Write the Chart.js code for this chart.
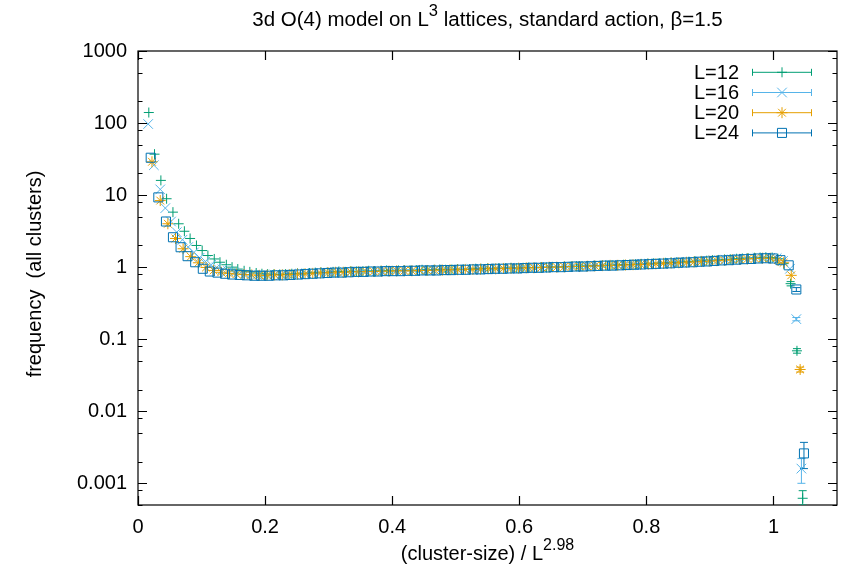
<!DOCTYPE html>
<html><head><meta charset="utf-8">
<script src="https://cdn.jsdelivr.net/npm/chart.js@4/dist/chart.umd.min.js"></script>
<style>html,body{margin:0;padding:0;background:#fff;}canvas{display:block}</style>
</head><body>
<canvas id="c" width="846" height="572"></canvas>
<script>
const FONT = '"Liberation Sans", Arial, Helvetica, sans-serif';
const seriesNames = ['L=12', 'L=16', 'L=20', 'L=24'];
const seriesColors = ['#009e73', '#56b4e9', '#e69f00', '#0072b2'];
const seriesStyles = ['cross', 'crossRot', 'star', 'rect'];
const xTicks = [0, 0.2, 0.4, 0.6, 0.8, 1];
const yTicks = [1000, 100, 10, 1, 0.1, 0.01, 0.001];
const yMinorMult = [2, 5, 8];

const L12 = [[0.017,140],[0.026,37],[0.036,16],[0.045,8.9],[0.055,5.8],[0.064,4.0],[0.073,3.15],[0.082,2.5],[0.092,2.0],[0.101,1.7],[0.110,1.45],[0.120,1.3],[0.129,1.17],[0.139,1.08],[0.148,1.0],[0.157,0.94],[0.167,0.89],[0.176,0.86],[0.186,0.83],[0.195,0.81],[0.204,0.80],[0.214,0.80],[0.223,0.79],[0.232,0.80],[0.242,0.81],[0.251,0.82],[0.260,0.81],[0.270,0.83],[0.279,0.84],[0.288,0.85],[0.298,0.84],[0.307,0.86],[0.316,0.87],[0.326,0.86],[0.335,0.88],[0.344,0.87],[0.354,0.88],[0.363,0.89],[0.372,0.88],[0.382,0.89],[0.391,0.90],[0.400,0.89],[0.410,0.90],[0.419,0.91],[0.428,0.90],[0.438,0.91],[0.447,0.92],[0.456,0.91],[0.466,0.92],[0.475,0.93],[0.484,0.92],[0.494,0.93],[0.503,0.94],[0.512,0.93],[0.522,0.94],[0.531,0.95],[0.540,0.95],[0.550,0.96],[0.559,0.95],[0.568,0.97],[0.578,0.96],[0.587,0.98],[0.596,0.97],[0.606,0.98],[0.615,0.99],[0.624,0.98],[0.634,1.00],[0.643,0.99],[0.652,1.01],[0.662,1.00],[0.671,1.02],[0.680,1.02],[0.690,1.03],[0.699,1.03],[0.708,1.04],[0.718,1.05],[0.727,1.05],[0.736,1.06],[0.746,1.07],[0.755,1.07],[0.764,1.08],[0.774,1.09],[0.783,1.10],[0.792,1.11],[0.802,1.12],[0.811,1.13],[0.820,1.14],[0.830,1.15],[0.839,1.16],[0.848,1.17],[0.858,1.18],[0.867,1.19],[0.876,1.21],[0.886,1.22],[0.895,1.23],[0.904,1.25],[0.914,1.26],[0.923,1.28],[0.932,1.29],[0.942,1.31],[0.951,1.32],[0.960,1.34],[0.970,1.35],[0.979,1.36],[0.988,1.37],[0.998,1.36],[1.007,1.31],[1.016,1.12],[1.027,0.59],[1.037,0.069],[1.046,0.00062]];

const L16 = [[0.016,97],[0.025,26],[0.035,12],[0.043,6.6],[0.052,4.3],[0.061,3.05],[0.070,2.4],[0.079,1.9],[0.088,1.6],[0.097,1.35],[0.106,1.2],[0.115,1.08],[0.124,0.99],[0.133,0.93],[0.142,0.88],[0.151,0.85],[0.160,0.82],[0.169,0.80],[0.178,0.79],[0.187,0.78],[0.196,0.78],[0.205,0.78],[0.215,0.79],[0.225,0.78],[0.235,0.80],[0.245,0.80],[0.255,0.81],[0.265,0.82],[0.275,0.83],[0.285,0.82],[0.295,0.84],[0.305,0.85],[0.315,0.84],[0.325,0.86],[0.335,0.86],[0.345,0.87],[0.355,0.87],[0.365,0.88],[0.375,0.87],[0.385,0.88],[0.395,0.89],[0.405,0.88],[0.415,0.89],[0.425,0.90],[0.435,0.89],[0.445,0.90],[0.455,0.91],[0.465,0.90],[0.475,0.91],[0.485,0.92],[0.495,0.92],[0.505,0.93],[0.515,0.92],[0.525,0.94],[0.535,0.94],[0.545,0.95],[0.555,0.94],[0.565,0.96],[0.575,0.95],[0.585,0.97],[0.595,0.96],[0.605,0.97],[0.615,0.98],[0.625,0.98],[0.635,0.99],[0.645,1.00],[0.655,1.00],[0.665,1.01],[0.675,1.01],[0.685,1.02],[0.695,1.03],[0.705,1.03],[0.715,1.04],[0.725,1.05],[0.735,1.05],[0.745,1.06],[0.755,1.07],[0.765,1.08],[0.775,1.08],[0.785,1.09],[0.795,1.10],[0.805,1.11],[0.815,1.12],[0.825,1.13],[0.835,1.14],[0.845,1.15],[0.855,1.17],[0.865,1.18],[0.875,1.19],[0.885,1.21],[0.895,1.22],[0.905,1.24],[0.915,1.25],[0.925,1.27],[0.935,1.28],[0.945,1.30],[0.955,1.31],[0.965,1.33],[0.975,1.34],[0.985,1.35],[0.995,1.35],[1.005,1.33],[1.015,1.22],[1.026,0.95],[1.036,0.19],[1.044,0.0016]];

const L20 = [[0.022,29],[0.035,8.4],[0.047,4.0],[0.059,2.5],[0.071,1.8],[0.083,1.4],[0.095,1.15],[0.107,0.99],[0.119,0.90],[0.131,0.85],[0.143,0.82],[0.155,0.80],[0.167,0.79],[0.179,0.78],[0.191,0.77],[0.203,0.77],[0.215,0.78],[0.227,0.78],[0.239,0.79],[0.251,0.80],[0.263,0.81],[0.275,0.82],[0.287,0.83],[0.299,0.84],[0.311,0.85],[0.323,0.85],[0.335,0.86],[0.347,0.86],[0.359,0.87],[0.371,0.87],[0.383,0.88],[0.395,0.88],[0.407,0.89],[0.419,0.89],[0.431,0.89],[0.443,0.90],[0.455,0.90],[0.467,0.91],[0.479,0.91],[0.491,0.92],[0.503,0.92],[0.515,0.93],[0.527,0.93],[0.539,0.94],[0.551,0.95],[0.563,0.95],[0.575,0.96],[0.587,0.96],[0.599,0.97],[0.611,0.98],[0.623,0.98],[0.635,0.99],[0.647,1.00],[0.659,1.00],[0.671,1.01],[0.683,1.02],[0.695,1.02],[0.707,1.03],[0.719,1.04],[0.731,1.05],[0.743,1.06],[0.755,1.06],[0.767,1.07],[0.779,1.08],[0.791,1.09],[0.803,1.10],[0.815,1.11],[0.827,1.13],[0.839,1.14],[0.851,1.15],[0.863,1.17],[0.875,1.18],[0.887,1.20],[0.899,1.21],[0.911,1.23],[0.923,1.25],[0.935,1.27],[0.947,1.28],[0.959,1.30],[0.971,1.32],[0.983,1.33],[0.995,1.33],[1.007,1.25],[1.016,1.15],[1.028,0.77],[1.042,0.038]];

const L24 = [[0.020,33],[0.032,9.3],[0.044,4.3],[0.055,2.6],[0.067,1.89],[0.078,1.42],[0.090,1.17],[0.102,0.95],[0.113,0.87],[0.125,0.84],[0.137,0.81],[0.148,0.79],[0.160,0.78],[0.171,0.77],[0.183,0.76],[0.194,0.76],[0.206,0.76],[0.217,0.77],[0.229,0.77],[0.240,0.78],[0.252,0.79],[0.263,0.80],[0.275,0.81],[0.286,0.82],[0.298,0.83],[0.309,0.84],[0.321,0.84],[0.332,0.85],[0.344,0.86],[0.355,0.86],[0.367,0.87],[0.378,0.87],[0.390,0.88],[0.401,0.88],[0.413,0.88],[0.424,0.89],[0.436,0.89],[0.447,0.90],[0.459,0.90],[0.470,0.90],[0.482,0.91],[0.493,0.91],[0.505,0.92],[0.516,0.92],[0.528,0.93],[0.539,0.93],[0.551,0.94],[0.562,0.95],[0.574,0.95],[0.585,0.96],[0.597,0.96],[0.608,0.97],[0.620,0.98],[0.631,0.98],[0.643,0.99],[0.654,1.00],[0.666,1.00],[0.677,1.01],[0.689,1.02],[0.700,1.02],[0.712,1.03],[0.723,1.04],[0.735,1.05],[0.746,1.05],[0.758,1.06],[0.769,1.07],[0.781,1.08],[0.792,1.09],[0.804,1.10],[0.815,1.11],[0.827,1.12],[0.838,1.13],[0.850,1.15],[0.861,1.16],[0.873,1.17],[0.884,1.19],[0.896,1.20],[0.907,1.22],[0.919,1.24],[0.930,1.25],[0.942,1.27],[0.953,1.29],[0.965,1.30],[0.976,1.32],[0.988,1.33],[0.999,1.32],[1.011,1.25],[1.024,1.06],[1.036,0.49],[1.048,0.0026]];

// error bars [x, low, high] where they are visible beyond the marker
const L12_err = [[1.027,0.55,0.63],[1.037,0.064,0.074],[1.046,0.00050,0.00079]];
const L16_err = [[1.036,0.18,0.20],[1.044,0.0010,0.0022]];
const L20_err = [[1.042,0.035,0.041]];
const L24_err = [[1.036,0.46,0.52],[1.048,0.0016,0.0037]];

const seriesData = [L12, L16, L20, L24];
const seriesErr = [L12_err, L16_err, L20_err, L24_err];
const markerRadius = [5, 6.8, 5.5, 6.4];

function drawMarker(ctx, style, x, y, r) {
  ctx.beginPath();
  if (style === 'cross' || style === 'star') {
    ctx.moveTo(x, y - r); ctx.lineTo(x, y + r);
    ctx.moveTo(x - r, y); ctx.lineTo(x + r, y);
  }
  if (style === 'crossRot' || style === 'star') {
    const o = Math.cos(Math.PI / 4) * r;
    ctx.moveTo(x - o, y - o); ctx.lineTo(x + o, y + o);
    ctx.moveTo(x - o, y + o); ctx.lineTo(x + o, y - o);
  }
  if (style === 'rect') {
    const s = Math.SQRT1_2 * r;
    ctx.rect(x - s, y - s, 2 * s, 2 * s);
  }
  ctx.stroke();
}

function drawRich(ctx, parts, cx, baseline) {
  let total = 0;
  parts.forEach(p => { ctx.font = p.size + 'px ' + FONT; p.w = ctx.measureText(p.t).width; total += p.w; });
  let x = cx - total / 2;
  parts.forEach(p => { ctx.font = p.size + 'px ' + FONT; ctx.fillText(p.t, x, baseline - p.rise); x += p.w; });
}

const gnuplotFrame = {
  id: 'gnuplotFrame',
  beforeDatasetsDraw(chart) {
    const { ctx, chartArea: a, scales: { x, y } } = chart;
    ctx.save();
    // border
    ctx.strokeStyle = '#000';
    ctx.lineWidth = 1.2;
    ctx.strokeRect(a.left, a.top, a.right - a.left, a.bottom - a.top);
    // x ticks (inside, mirrored)
    xTicks.forEach(v => {
      const px = Math.round(x.getPixelForValue(v)) + 0.5;
      ctx.beginPath();
      ctx.moveTo(px, a.bottom); ctx.lineTo(px, a.bottom - 9);
      ctx.moveTo(px, a.top); ctx.lineTo(px, a.top + 9);
      ctx.stroke();
    });
    // y major ticks
    yTicks.forEach(v => {
      const py = Math.round(y.getPixelForValue(v)) + 0.5;
      ctx.beginPath();
      ctx.moveTo(a.left, py); ctx.lineTo(a.left + 9, py);
      ctx.moveTo(a.right, py); ctx.lineTo(a.right - 9, py);
      ctx.stroke();
    });
    // y minor ticks
    yTicks.concat([0.0001]).forEach(dec => {
      yMinorMult.forEach(m => {
        const v = dec * m;
        if (v < y.min || v > y.max) return;
        const py = Math.round(y.getPixelForValue(v)) + 0.5;
        ctx.beginPath();
        ctx.moveTo(a.left, py); ctx.lineTo(a.left + 4.5, py);
        ctx.moveTo(a.right, py); ctx.lineTo(a.right - 4.5, py);
        ctx.stroke();
      });
    });
    // error bars
    ctx.beginPath();
    ctx.rect(a.left, a.top, a.right - a.left, a.bottom - a.top);
    ctx.clip();
    ctx.lineWidth = 1;
    chart.data.datasets.forEach((ds, i) => {
      ctx.strokeStyle = seriesColors[i];
      seriesErr[i].forEach(([xv, lo, hi]) => {
        const px = x.getPixelForValue(xv);
        const p1 = y.getPixelForValue(lo), p2 = y.getPixelForValue(hi);
        ctx.beginPath();
        ctx.moveTo(px, p1); ctx.lineTo(px, p2);
        ctx.moveTo(px - 4, p1); ctx.lineTo(px + 4, p1);
        ctx.moveTo(px - 4, p2); ctx.lineTo(px + 4, p2);
        ctx.stroke();
      });
    });
    ctx.restore();
  },
  afterDraw(chart) {
    const { ctx, chartArea: a } = chart;
    ctx.save();
    ctx.fillStyle = '#000';
    ctx.textBaseline = 'alphabetic';
    ctx.textAlign = 'left';
    const cx = (a.left + a.right) / 2;
    // title
    drawRich(ctx, [
      { t: '3d O(4) model on L', size: 20.5, rise: 0 },
      { t: '3', size: 16.5, rise: 10 },
      { t: ' lattices, standard action, \u03b2=1.5', size: 20.5, rise: 0 }
    ], cx, 26);
    // x label
    drawRich(ctx, [
      { t: '(cluster-size) / L', size: 20, rise: 0 },
      { t: '2.98', size: 16, rise: 10 }
    ], cx, 560);
    // y label
    ctx.save();
    ctx.translate(41, (a.top + a.bottom) / 2 - 4);
    ctx.rotate(-Math.PI / 2);
    ctx.textAlign = 'center';
    ctx.font = '20px ' + FONT;
    ctx.fillText('frequency  (all clusters)', 0, 0);
    ctx.restore();
    // legend
    seriesNames.forEach((name, i) => {
      const ry = 72.3 + i * 20.2;
      ctx.font = '20px ' + FONT;
      ctx.textAlign = 'right';
      ctx.fillStyle = '#000';
      ctx.fillText(name, 739, ry + 6.5);
      ctx.strokeStyle = seriesColors[i];
      ctx.lineWidth = 1;
      ctx.beginPath();
      ctx.moveTo(752, ry); ctx.lineTo(812, ry);
      ctx.moveTo(752.5, ry - 3.5); ctx.lineTo(752.5, ry + 3.5);
      ctx.moveTo(811.5, ry - 3.5); ctx.lineTo(811.5, ry + 3.5);
      ctx.stroke();
      drawMarker(ctx, seriesStyles[i], 782, ry, markerRadius[i]);
    });
    ctx.restore();
  }
};

const tickFont = { family: FONT, size: 20 };

new Chart(document.getElementById('c'), {
  type: 'scatter',
  data: {
    datasets: seriesData.map((d, i) => ({
      label: seriesNames[i],
      data: d.map(([x, y]) => ({ x, y })),
      showLine: false,
      pointStyle: seriesStyles[i],
      pointRadius: markerRadius[i],
      pointHoverRadius: markerRadius[i],
      pointBorderWidth: 1,
      pointBorderColor: seriesColors[i],
      pointBackgroundColor: 'rgba(0,0,0,0)',
      borderColor: seriesColors[i],
      backgroundColor: 'rgba(0,0,0,0)',
      order: 4 - i
    }))
  },
  options: {
    responsive: false,
    animation: false,
    devicePixelRatio: 1,
    layout: { padding: { top: 51, right: 9, left: 0, bottom: 0 } },
    plugins: { legend: { display: false }, title: { display: false }, tooltip: { enabled: false } },
    events: [],
    scales: {
      x: {
        type: 'linear', min: 0, max: 1.1, bounds: 'data',
        grid: { display: false, drawTicks: false },
        border: { display: false },
        afterBuildTicks: s => { s.ticks = xTicks.map(v => ({ value: v })); },
        afterFit: s => { s.height = 67; },
        ticks: { padding: 10, color: '#000', font: tickFont, maxRotation: 0, autoSkip: false, callback: v => String(v) }
      },
      y: {
        type: 'logarithmic', min: 0.0005, max: 1000, bounds: 'data',
        grid: { display: false, drawTicks: false },
        border: { display: false },
        afterBuildTicks: s => { s.ticks = yTicks.map(v => ({ value: v })); },
        afterFit: s => { s.width = 138; },
        ticks: { padding: 11, color: '#000', font: tickFont, autoSkip: false, callback: v => String(v) }
      }
    }
  },
  plugins: [gnuplotFrame]
});
</script>
</body></html>
